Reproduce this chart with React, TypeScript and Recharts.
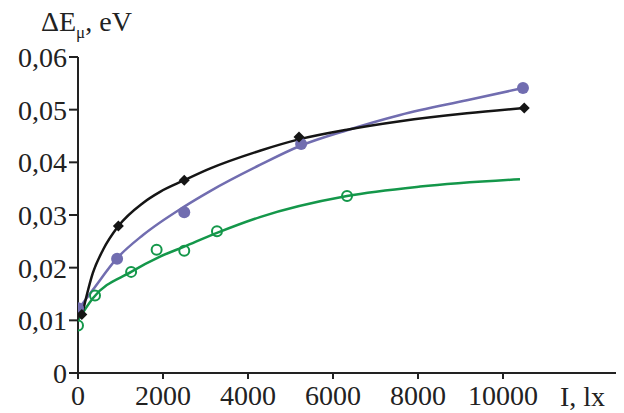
import React from "react";
import { ComposedChart, Line, Scatter, XAxis, YAxis } from "recharts";

// Fitted curves
const blackCurveI = [100, 350, 590, 950, 1530, 1930, 2500, 3100, 4280, 5220, 6330, 7580, 9150, 10500];
const blackCurveE = [0.0112, 0.019, 0.0234, 0.0279, 0.0323, 0.0344, 0.0366, 0.0388, 0.0422, 0.0444, 0.0462, 0.0478, 0.0493, 0.0503];
const purpleCurveI = [0, 350, 920, 1530, 2500, 3100, 4280, 5220, 6330, 7580, 9150, 10470];
const purpleCurveE = [0.012, 0.0158, 0.0218, 0.0262, 0.0316, 0.0345, 0.0395, 0.0431, 0.0461, 0.049, 0.0518, 0.0541];
const greenCurveI = [0, 350, 1250, 1930, 2500, 3270, 4280, 6330, 8050, 10400];
const greenCurveE = [0.01, 0.0142, 0.0192, 0.0221, 0.024, 0.0266, 0.0296, 0.0336, 0.0354, 0.0368];

// Measured points
const blackPtsI = [90, 950, 2500, 5200, 10500];
const blackPtsE = [0.0111, 0.0279, 0.0366, 0.0448, 0.0503];
const purplePtsI = [0, 920, 2500, 5250, 10470];
const purplePtsE = [0.0123, 0.0217, 0.0305, 0.0435, 0.0541];
const greenPtsI = [0, 400, 1250, 1850, 2500, 3270, 6330];
const greenPtsE = [0.009, 0.0147, 0.0192, 0.0234, 0.0232, 0.0269, 0.0336];

const xTicks = [0, 2000, 4000, 6000, 8000, 10000];
const yTicks = [0, 0.01, 0.02, 0.03, 0.04, 0.05, 0.06];

const zip = (xs: number[], ys: number[]) => xs.map((x, i) => ({ x, y: ys[i] }));

const BLACK = "#151515";
const PURPLE = "#716db0";
const GREEN = "#14974a";
const AXIS = "#222";
const FONT = "'Liberation Serif', 'DejaVu Serif', serif";

const fmtY = (v: number) => (v === 0 ? "0" : v.toFixed(2).replace(".", ","));

const Diamond = (p: any) => {
  const { cx, cy } = p;
  const r = 5.5;
  return <path d={`M${cx},${cy - r}L${cx + r},${cy}L${cx},${cy + r}L${cx - r},${cy}Z`} fill={BLACK} />;
};
const Dot = (p: any) => <circle cx={p.cx} cy={p.cy} r={6} fill={PURPLE} />;
const Ring = (p: any) => <circle cx={p.cx} cy={p.cy} r={5} fill="none" stroke={GREEN} strokeWidth={2} />;

export default function App() {
  const W = 616;
  const H = 405;
  return (
    <div style={{ position: "relative", width: W, height: H }}>
      <ComposedChart width={W} height={H} margin={{ top: 49, right: 2, bottom: 10, left: 0 }}>
        <XAxis
          type="number"
          dataKey="x"
          domain={[0, 12800]}
          ticks={xTicks}
          allowDataOverflow
          stroke={AXIS}
          strokeWidth={2}
          tickSize={6}
          tickMargin={6}
          height={30}
          tick={{ fill: "#222", fontSize: 28, fontFamily: FONT }}
          tickLine={{ stroke: AXIS, strokeWidth: 2 }}
        />
        <YAxis
          type="number"
          dataKey="y"
          domain={[0, 0.06]}
          ticks={yTicks}
          allowDataOverflow
          width={70}
          stroke={AXIS}
          strokeWidth={2}
          tickSize={9}
          tickMargin={2}
          tickFormatter={fmtY}
          tick={{ fill: "#222", fontSize: 28, fontFamily: FONT }}
          tickLine={{ stroke: AXIS, strokeWidth: 2 }}
        />
        <Line data={zip(greenCurveI, greenCurveE)} dataKey="y" type="monotone" stroke={GREEN} strokeWidth={2.5} dot={false} isAnimationActive={false} />
        <Line data={zip(purpleCurveI, purpleCurveE)} dataKey="y" type="monotone" stroke={PURPLE} strokeWidth={2.5} dot={false} isAnimationActive={false} />
        <Line data={zip(blackCurveI, blackCurveE)} dataKey="y" type="monotone" stroke={BLACK} strokeWidth={2.5} dot={false} isAnimationActive={false} />
        <Scatter data={zip(greenPtsI, greenPtsE)} dataKey="y" shape={Ring} isAnimationActive={false} />
        <Scatter data={zip(purplePtsI, purplePtsE)} dataKey="y" shape={Dot} isAnimationActive={false} />
        <Scatter data={zip(blackPtsI, blackPtsE)} dataKey="y" shape={Diamond} isAnimationActive={false} />
      </ComposedChart>
      <svg width={W} height={H + 8} style={{ position: "absolute", left: 0, top: -8, pointerEvents: "none", overflow: "visible" }}>
        <text x={33} y={31} fontFamily={FONT} fontSize={28} fill="#222">
          ΔE
          <tspan fontSize={17} dy={7}>μ</tspan>
          <tspan dy={-7}>, eV</tspan>
        </text>
        <text x={552} y={406} fontFamily={FONT} fontSize={28} fill="#222">I, lx</text>
      </svg>
    </div>
  );
}
